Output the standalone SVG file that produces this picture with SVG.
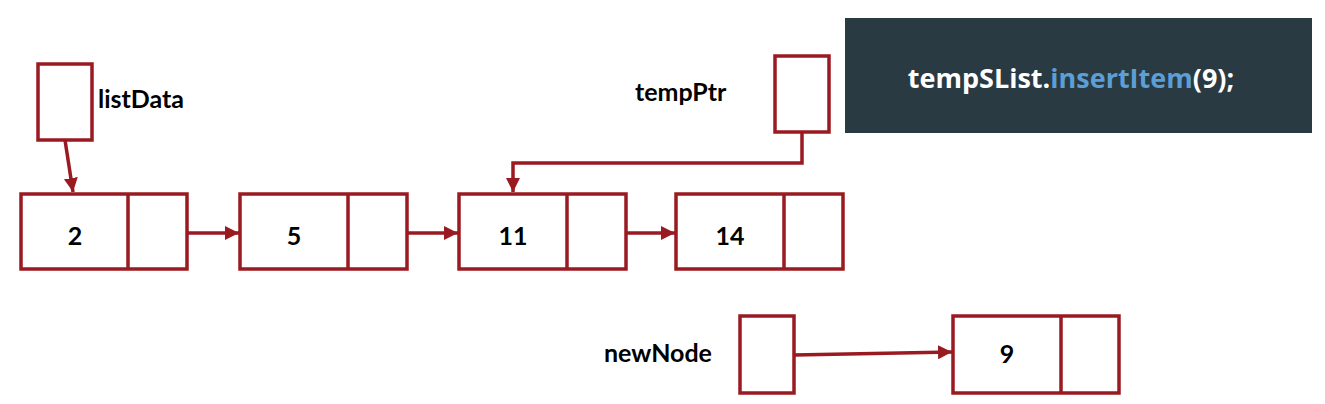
<svg xmlns="http://www.w3.org/2000/svg" width="1325" height="404" viewBox="0 0 1325 404">
<defs>
<style>
.box{fill:#fff;stroke:#9A1A21;stroke-width:3.5}
.div{stroke:#9A1A21;stroke-width:3.5}
.lbl{font-family:Lato,"Open Sans",sans-serif;font-weight:bold;font-size:25px;fill:#000}
.num{font-family:Lato,"Open Sans",sans-serif;font-weight:bold;font-size:25px;fill:#000;text-anchor:middle}
.con{fill:none;stroke:#9A1A21;stroke-width:3.5}
.code{font-family:"Open Sans","Noto Sans",sans-serif;font-weight:bold;font-size:27px;fill:#fff}
</style>
<marker id="ah" viewBox="0 0 10 10" refX="10" refY="5" markerWidth="4" markerHeight="4" markerUnits="strokeWidth" orient="auto">
<path d="M0,0 L10,5 L0,10 z" fill="#9A1A21"/>
</marker>
</defs>
<rect width="1325" height="404" fill="#fff"/>
<g id="code">
<rect x="845" y="18" width="467" height="115" fill="#2A3A43"/>
<text class="code" x="1071" y="88" text-anchor="middle">tempSList.<tspan fill="#5B9FD6">insertItem</tspan>(9);</text>
</g>
<g id="listData">
<rect class="box" x="38" y="64" width="54" height="76"/>
<text class="lbl" x="98" y="108">listData</text>
</g>
<g id="tempPtr">
<rect class="box" x="775" y="56" width="54" height="76"/>
<text class="lbl" x="635" y="101">tempPtr</text>
</g>
<g id="newNode">
<rect class="box" x="740" y="316" width="54" height="77"/>
<text class="lbl" x="604" y="362">newNode</text>
</g>
<g id="node2">
<rect class="box" x="21" y="194" width="166" height="75"/>
<line class="div" x1="128" y1="194" x2="128" y2="269"/>
<text class="num" x="75" y="245">2</text>
</g>
<g id="node5">
<rect class="box" x="240" y="194" width="167" height="75"/>
<line class="div" x1="348" y1="194" x2="348" y2="269"/>
<text class="num" x="294" y="245">5</text>
</g>
<g id="node11">
<rect class="box" x="459" y="194" width="167" height="75"/>
<line class="div" x1="567" y1="194" x2="567" y2="269"/>
<text class="num" x="513" y="245">11</text>
</g>
<g id="node14">
<rect class="box" x="676" y="194" width="167" height="75"/>
<line class="div" x1="784" y1="194" x2="784" y2="269"/>
<text class="num" x="730" y="245">14</text>
</g>
<g id="node9">
<rect class="box" x="953" y="316" width="166" height="77"/>
<line class="div" x1="1061" y1="316" x2="1061" y2="393"/>
<text class="num" x="1007" y="363">9</text>
</g>
<g id="connectors">
<path class="con" d="M65,140 L73,192" marker-end="url(#ah)"/>
<path class="con" d="M187,233 L239,233" marker-end="url(#ah)"/>
<path class="con" d="M407,233 L458,233" marker-end="url(#ah)"/>
<path class="con" d="M626,233 L675,233" marker-end="url(#ah)"/>
<path class="con" d="M802,132 L802,163 L513,163 L513,192" marker-end="url(#ah)"/>
<path class="con" d="M794,355 L952,352" marker-end="url(#ah)"/>
</g>
</svg>
